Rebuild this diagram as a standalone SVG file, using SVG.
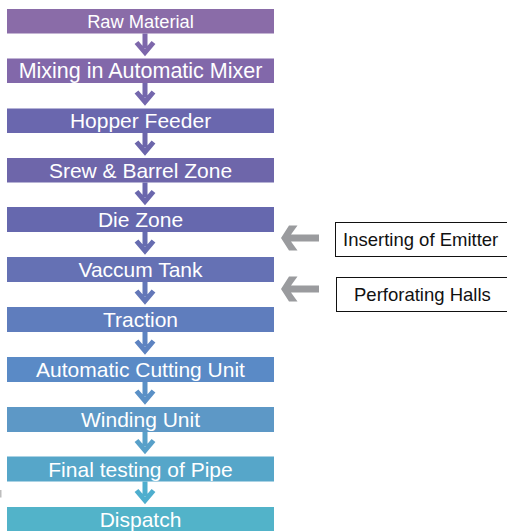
<svg xmlns="http://www.w3.org/2000/svg" width="507" height="531" viewBox="0 0 507 531">
<style>
.box text{font-family:"Liberation Sans",Arial,sans-serif;font-size:21px;fill:#fff;text-anchor:middle}
.side rect{fill:#fff;stroke:#111;stroke-width:1}
.side text{font-family:"Liberation Sans",Arial,sans-serif;font-size:18.5px;fill:#111}
.dn{fill:none;stroke-width:5;stroke-miterlimit:10}
.gray{fill:#9a9b9e}
</style>
<rect width="507" height="531" fill="#fff"/>
<g id="n1" class="box"><rect x="7" y="9" width="267" height="24.5" fill="#8a6ca8"/><text x="140.5" y="28.3" style="font-size:18.3px">Raw Material</text></g>
<g id="n2" class="box"><rect x="7" y="58.5" width="267" height="24.5" fill="#8268aa"/><text x="140.5" y="78" style="font-size:21.5px">Mixing in Automatic Mixer</text></g>
<g id="n3" class="box"><rect x="7" y="108.5" width="267" height="24.5" fill="#6a67ae"/><text x="140.5" y="128">Hopper Feeder</text></g>
<g id="n4" class="box"><rect x="7" y="158" width="267" height="24.5" fill="#6e66aa"/><text x="140.5" y="177.5">Srew &amp; Barrel Zone</text></g>
<g id="n5" class="box"><rect x="7" y="207" width="267" height="25" fill="#6668ae"/><text x="140.5" y="227">Die Zone</text></g>
<g id="n6" class="box"><rect x="7" y="257" width="267" height="25" fill="#6571b4"/><text x="140.5" y="277">Vaccum Tank</text></g>
<g id="n7" class="box"><rect x="7" y="307" width="267" height="25" fill="#5f7dbd"/><text x="140.5" y="327">Traction</text></g>
<g id="n8" class="box"><rect x="7" y="357" width="267" height="25" fill="#5a8ac6"/><text x="140.5" y="377">Automatic Cutting Unit</text></g>
<g id="n9" class="box"><rect x="7" y="407" width="267" height="25" fill="#5d98c6"/><text x="140.5" y="427">Winding Unit</text></g>
<g id="n10" class="box"><rect x="7" y="456.5" width="267" height="25" fill="#56a6c9"/><text x="140.5" y="476.5">Final testing of Pipe</text></g>
<g id="n11" class="box"><rect x="7" y="507" width="267" height="25" fill="#52b3c9"/><text x="140.5" y="527">Dispatch</text></g>
<g id="s1" class="side"><rect x="335.5" y="222.5" width="180" height="34"/><text x="343" y="245.8">Inserting of Emitter</text></g>
<g id="s2" class="side"><rect x="336.5" y="277.5" width="180" height="34"/><text x="354" y="301">Perforating Halls</text></g>
<g id="connectors">
<g stroke="#7d67ab"><path class="dn" d="M145 33.5V48M136.5 42.5L145 52.5L153.5 42.5"/></g>
<g stroke="#7467ad"><path class="dn" d="M145 83V97.5M136.5 92L145 102L153.5 92"/></g>
<g stroke="#6c66ab"><path class="dn" d="M145 133V147.5M136.5 142L145 152L153.5 142"/></g>
<g stroke="#6a67ad"><path class="dn" d="M145 182.5V197M136.5 191.5L145 201.5L153.5 191.5"/></g>
<g stroke="#666cb0"><path class="dn" d="M145 232V246.5M136.5 241L145 251L153.5 241"/></g>
<g stroke="#6377b8"><path class="dn" d="M145 282V296.5M136.5 291L145 301L153.5 291"/></g>
<g stroke="#5d83c1"><path class="dn" d="M145 332V346.5M136.5 341L145 351L153.5 341"/></g>
<g stroke="#5a90c6"><path class="dn" d="M145 382V396.5M136.5 391L145 401L153.5 391"/></g>
<g stroke="#58a0c9"><path class="dn" d="M145 432V446M136.5 440.5L145 450.5L153.5 440.5"/></g>
<g stroke="#4eaece"><path class="dn" d="M145 481.5V496M136.5 490.5L145 500.5L153.5 490.5"/></g>
<polygon class="gray" points="281,238 289,225.5 297.5,225.5 291,234.5 319,234.5 319,241.5 291,241.5 297.5,250.5 289,250.5"/>
<polygon class="gray" points="281,289 289,276.5 297.5,276.5 291,285.5 319,285.5 319,292.5 291,292.5 297.5,301.5 289,301.5"/>
</g>
<rect x="0" y="490" width="1.5" height="7.5" fill="#bdbdbd"/>
</svg>
